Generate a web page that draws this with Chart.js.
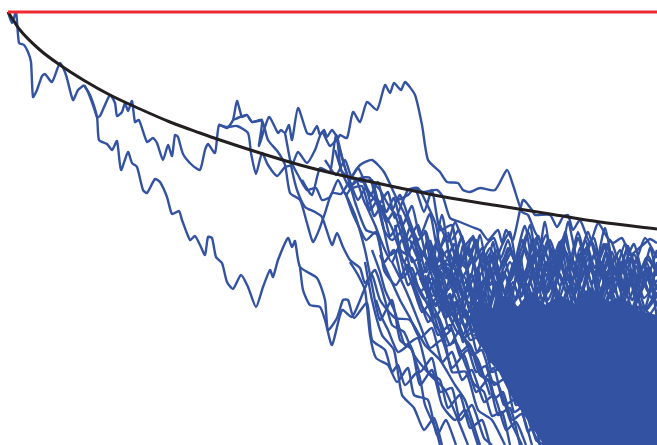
<!DOCTYPE html>
<html>
<head>
<meta charset="utf-8">
<style>
  html, body { margin: 0; padding: 0; background: #fff; }
  #wrap { width: 657px; height: 445px; }
</style>
<script src="https://cdn.jsdelivr.net/npm/chart.js@4"></script>
</head>
<body>
<div id="wrap"><canvas id="chart"></canvas></div>
<script>
const barrier = [8,12, 657,12];
const expected = [8,12, 20,30, 40,50, 60,65, 85,81, 110,95, 140,109, 170,122, 200,133, 220,140, 260,153, 300,165, 340,175, 400,188, 450,198, 500,206, 550,214, 600,222, 657,229];

// solid core where the paths overlap completely
const coreTop = [470,312, 480,300, 492,310, 505,296, 518,308, 530,292, 545,306, 560,296, 575,305, 590,288, 605,304, 620,298, 640,312, 657,316];
const coreBottom = [470,318, 480,342, 490,360, 500,372, 510,392, 525,415, 535,430, 545,445, 657,445];

const trunk = [8,12, 12,23, 16,12, 19,43, 24,45, 28,52, 31,62, 33,97, 37,90, 42,76, 45,74, 52,82, 60,63, 66,75, 73,100, 78,90, 84,85];
const upperA = [84,85, 88,92, 94,108, 97,117, 100,116, 110,95, 115,103, 117,116, 122,112, 125,103, 128,111, 132,101, 135,122, 139,120, 147,142, 153,138, 157,143, 163,160, 168,145, 172,156, 175,135, 178,137, 183,154, 192,165, 200,170, 205,150, 208,144, 215,153, 219,125, 227,128, 233,120, 237,101, 242,117, 247,115, 252,122, 262,120, 259,146, 269,117, 278,133, 281,130, 285,133, 289,125, 292,140, 298,108, 307,133, 312,134, 317,126, 320,135, 324,130, 327,137, 332,130, 338,138, 340,135, 347,138, 353,112, 360,122, 367,102, 377,110, 385,85, 390,93, 394,83, 401,90, 405,82, 415,95, 422,125, 428,160, 440,172, 447,182, 458,183, 463,190, 470,192, 480,188, 495,190, 507,170, 513,185, 522,212, 528,215, 535,232, 545,250, 552,275];
const lowerA = [84,85, 90,95, 97,117, 99,140, 107,144, 112,150, 117,141, 121,170, 128,152, 132,163, 137,167, 143,190, 147,193, 155,179, 160,182, 167,197, 172,214, 179,211, 182,220, 190,240, 195,236, 200,245, 205,255, 208,237, 212,238, 216,257, 222,263, 227,282, 233,289, 241,275, 248,287, 256,307, 263,287, 270,270, 273,277, 278,260, 288,238, 292,247, 295,241, 300,267, 317,278, 325,300, 328,330, 337,318, 343,300, 348,300, 354,318, 367,303, 372,340, 385,350, 392,372, 398,365, 405,385, 418,372, 425,405, 436,430, 440,445];
const midA = [219,125, 227,127, 237,126, 248,133, 251,153, 256,174, 262,153, 268,165, 277,176, 285,167, 292,165, 298,152, 307,163, 315,150, 322,132, 330,146, 337,140, 341,170, 350,178, 358,168, 368,190, 375,200, 385,215, 392,228, 400,250, 412,258, 425,290];
const midB = [233,120, 240,117, 247,115, 252,122, 262,121, 268,140, 278,152, 285,165, 290,193, 300,200, 307,223, 313,242, 319,230, 325,213, 332,193, 341,194, 350,180, 360,165, 372,160, 384,172, 395,195, 405,215, 415,240, 430,265, 445,300];
const midC = [285,133, 292,170, 297,190, 305,207, 315,212, 322,217, 332,245, 337,233, 343,247, 350,260, 360,268, 365,283, 375,270, 385,300, 392,325, 404,332, 414,355, 430,375, 445,390, 460,425, 468,445];
const midD = [300,267, 303,290, 310,305, 320,307, 325,320, 332,345, 342,310, 352,317, 365,288, 372,275, 380,300, 395,318, 410,320, 425,345, 440,360, 455,385, 465,400, 480,445];
const midE = [290,160, 298,175, 307,190, 316,188, 322,200, 330,197, 338,180, 346,195, 356,180, 366,205, 375,198, 384,230, 392,240, 404,230, 412,262, 425,255, 436,290, 450,310, 462,335, 478,360, 490,395];
const midF = [302,180, 312,195, 320,168, 330,172, 336,135, 344,165, 352,185, 360,178, 370,178, 378,205, 388,192, 395,218, 408,190, 418,188, 425,200, 436,225, 442,260, 455,270, 466,300, 480,310, 495,345];
const midG = [325,160, 336,175, 345,160, 352,178, 364,182, 372,180, 381,215, 390,255, 398,250, 408,285, 420,270, 432,305, 442,300, 456,330, 470,345, 480,375, 498,385, 510,420, 522,445];
const midH = [340,150, 348,178, 356,205, 366,230, 378,235, 384,270, 396,285, 408,265, 418,300, 430,318, 444,338, 452,372, 466,372, 478,410, 492,420, 505,445];
const midI = [345,192, 355,215, 365,250, 372,285, 380,320, 392,300, 400,340, 412,350, 420,385, 432,370, 442,405, 455,420, 465,410, 478,445];
const midJ = [350,262, 358,275, 365,290, 370,335, 376,358, 388,365, 397,382, 408,368, 414,395, 428,400, 437,435, 446,420, 456,445];
const midK = [372,182, 380,190, 392,210, 400,195, 410,222, 418,240, 426,232, 436,268, 448,260, 460,300, 470,285, 482,322, 496,330, 506,370, 520,385, 530,425, 540,445];
const midL = [398,200, 408,195, 415,188, 424,212, 432,190, 440,230, 452,225, 460,262, 470,250, 480,290, 490,275, 500,310];
const midM = [366,205, 375,225, 384,248, 392,262, 402,240, 412,275, 425,300, 434,282, 445,318, 456,305, 470,340, 482,335, 492,372, 505,365, 516,405, 530,400, 540,445];
const midN = [335,150, 342,172, 350,188, 362,186, 370,210, 378,200, 386,222, 394,212, 404,242, 410,228, 420,256, 428,246, 438,274];
const midO = [350,182, 358,200, 366,188, 374,216, 382,206, 390,236, 400,222, 408,252, 416,238, 426,272, 434,258, 444,286];
const midP = [362,178, 370,196, 378,182, 386,212, 394,198, 402,226, 412,206, 420,236, 430,214, 438,250, 448,236, 458,268];
const midQ = [346,195, 352,212, 358,225, 366,240, 376,232, 384,262, 394,250, 402,278, 412,268, 420,292, 430,282, 440,310];

const upperB = [415,188, 423,192, 437,190, 443,197, 450,218, 460,222, 472,227, 480,230, 488,240, 498,230, 502,243, 506,230, 513,240, 523,200, 532,210, 535,215, 550,215, 557,227, 563,217, 568,215, 573,230, 580,220, 590,243, 598,223, 607,237, 613,243, 622,238, 630,255, 637,250, 645,243, 650,239, 657,243];
const upperC = [440,225, 448,242, 455,222, 465,245, 472,238, 482,262, 490,248, 500,270, 508,248, 516,262, 528,232, 536,258, 546,235, 554,262, 562,240, 570,268, 578,238, 588,270, 596,250, 604,272, 612,252, 620,276, 630,258, 638,280, 646,258, 657,272];
const upperD = [430,240, 438,262, 448,250, 458,272, 468,250, 478,278, 488,262, 498,288, 510,262, 520,285, 532,256, 542,280, 552,252, 562,282, 572,258, 582,290, 592,268, 602,292, 612,262, 622,290, 634,272, 644,298, 657,280];
const upperE = [425,265, 436,245, 446,278, 456,262, 466,292, 476,272, 486,256, 496,294, 506,276, 516,300, 526,270, 536,296, 546,268, 558,300, 568,276, 578,304, 590,262, 600,300, 610,278, 622,306, 632,282, 644,310, 657,292];
const upperF = [420,280, 432,258, 442,292, 454,276, 464,262, 474,298, 484,280, 494,268, 504,305, 514,286, 526,312, 538,282, 550,308, 560,264, 572,300, 584,272, 596,314, 608,288, 620,262, 632,300, 644,272, 657,305];
const upperG = [435,272, 445,236, 455,290, 463,246, 472,304, 482,254, 492,312, 502,272, 512,252, 522,296, 532,242, 542,300, 552,272, 564,250, 574,290, 586,248, 596,284, 606,252, 618,278, 628,246, 640,288, 650,248, 657,276];
const upperH = [445,262, 452,286, 460,270, 470,312, 478,268, 486,322, 498,282, 508,318, 520,256, 530,320, 540,268, 552,326, 562,282, 574,316, 584,262, 594,330, 606,272, 616,312, 628,268, 640,322, 657,265];
const upperI = [455,250, 463,276, 473,260, 483,300, 493,242, 503,300, 513,270, 525,226, 535,280, 545,222, 555,286, 565,232, 575,278, 585,240, 595,268, 605,228, 615,272, 625,244, 635,262, 645,238, 657,258];
const upperJ = [425,230, 432,268, 442,215, 452,268, 462,236, 470,280, 480,235, 490,285, 500,250, 510,232, 518,272, 530,225, 538,270, 548,240, 558,276, 568,222, 578,262, 588,232, 600,272, 610,240, 622,268, 634,244, 645,282, 657,250];
const upperK = [410,240, 420,262, 428,240, 438,285, 450,305, 458,280, 468,322, 478,296, 488,338, 500,316, 510,342, 522,312, 532,342, 544,316, 556,340, 568,310, 580,336, 592,304, 604,330, 616,300, 628,326, 640,306, 657,322];
const upperL = [400,215, 408,240, 418,225, 428,262, 438,240, 446,272, 456,298, 466,318, 476,288, 486,312, 496,282, 506,322, 518,292, 530,264, 540,308, 552,282, 564,318, 576,286, 588,254, 598,296, 610,268, 622,312, 634,288, 646,262, 657,290];
const upperM = [395,225, 404,262, 414,242, 424,285, 434,262, 444,298, 452,322, 462,305, 472,276, 482,308, 492,256, 504,292, 514,262, 524,286, 536,248, 548,292, 558,256, 570,292, 580,248, 592,282, 604,244, 614,292, 626,252, 638,298, 648,268, 657,318];
const upperN = [445,300, 455,255, 466,268, 476,244, 486,286, 496,262, 506,296, 516,256, 526,298, 538,236, 548,272, 560,242, 570,284, 582,256, 594,238, 604,282, 616,256, 626,296, 636,262, 648,292, 657,262];

// tighter wiggles through the busy band under the fringe
const bandA = [430,262, 437,274, 443,266, 450,280, 457,270, 464,284, 471,274, 478,290, 485,278, 492,294, 499,280, 506,296, 513,282, 520,298, 527,284, 534,300, 541,284, 548,300, 555,286, 562,302, 569,286, 576,304, 583,288, 590,304, 597,288, 604,304, 611,290, 618,306, 625,290, 632,308, 639,292, 646,310, 657,296];
const bandB = [434,285, 441,272, 448,290, 455,278, 462,296, 469,282, 476,300, 483,286, 490,304, 497,288, 504,272, 511,292, 518,276, 525,294, 532,276, 539,292, 546,274, 553,292, 560,274, 567,294, 574,276, 581,296, 588,276, 595,294, 602,276, 609,296, 616,278, 623,298, 630,280, 637,300, 644,280, 651,298, 657,284];
const bandC = [440,246, 447,258, 454,244, 461,260, 468,246, 475,262, 482,248, 489,266, 496,250, 503,266, 510,248, 517,268, 524,250, 531,268, 538,250, 545,270, 552,250, 559,268, 566,252, 573,270, 580,254, 587,272, 594,256, 601,276, 608,258, 615,280, 622,262, 629,284, 636,266, 643,288, 650,270, 657,290];
const bandD = [428,275, 435,296, 442,282, 449,304, 456,288, 463,310, 470,292, 477,314, 484,296, 491,318, 498,298, 505,316, 512,298, 519,318, 526,300, 533,316, 540,296, 547,314, 554,294, 561,312, 568,290, 575,310, 582,292, 589,312, 596,294, 603,314, 610,296, 617,316, 624,298, 631,318, 638,300, 645,320, 657,304];
const bandE = [448,232, 455,252, 462,238, 469,256, 476,240, 483,268, 490,254, 497,276, 504,258, 511,280, 518,262, 525,282, 532,264, 539,286, 546,262, 553,278, 560,256, 567,280, 574,262, 581,282, 588,258, 595,280, 602,262, 609,284, 616,268, 623,288, 630,270, 637,276, 644,264, 651,282, 657,270];
const bandF = [420,268, 428,290, 436,306, 444,292, 452,314, 460,300, 468,322, 476,308, 484,330, 492,312, 500,330, 508,312, 516,330, 524,310, 532,326, 540,308, 548,326, 556,306, 564,322, 572,304, 580,322, 588,300, 596,320, 604,300, 612,318, 620,304, 628,320, 636,306, 657,330];
const bandG = [452,240, 459,230, 466,252, 473,236, 480,256, 487,244, 494,238, 501,258, 508,240, 515,262, 522,240, 529,256, 536,238, 543,260, 550,240, 557,258, 564,236, 571,256, 578,232, 585,254, 592,242, 599,260, 606,244, 613,262, 620,250, 627,268, 634,254, 641,270, 648,256, 657,274];
const bandH = [416,250, 424,272, 432,254, 440,278, 448,268, 456,292, 464,276, 472,298, 480,284, 488,306, 496,290, 504,310, 512,292, 520,268, 528,288, 536,268, 544,286, 552,264, 560,286, 568,268, 576,288, 584,264, 592,284, 600,266, 608,286, 616,270, 624,290, 632,272, 640,294, 648,276, 657,298];
const bandI = [424,285, 431,304, 438,296, 445,318, 452,302, 459,326, 466,310, 473,332, 480,318];
const bandJ = [436,276, 443,308, 450,294, 457,318, 464,334, 471,316, 478,340, 485,326, 492,350];
const bandK = [428,300, 435,318, 442,308, 449,330, 456,316, 463,342, 470,328, 477,352, 484,338];

// descending paths that thin out on the lower left of the cloud
const lowerB = [380,255, 390,278, 400,300, 410,318, 420,338, 432,328, 442,362, 452,352, 462,380, 472,370, 484,402, 494,395, 506,430, 516,422, 526,445];
const lowerC = [372,250, 380,272, 385,290, 395,312, 405,345, 418,338, 428,372, 440,380, 448,408, 460,395, 470,428, 482,420, 490,445];
const lowerD = [392,262, 402,282, 410,300, 420,325, 430,348, 442,340, 452,368, 464,355, 476,392, 488,380, 498,415, 510,408, 520,445];
const lowerE = [404,262, 412,275, 420,290, 430,310, 438,335, 450,325, 460,352, 470,345, 484,378, 494,368, 504,405, 518,398, 528,432, 536,420, 545,445];
const lowerF = [420,278, 430,300, 440,320, 450,345, 460,330, 472,355, 482,350, 494,385, 506,378, 514,412, 526,405, 536,440, 545,445];
const lowerG = [376,300, 382,318, 388,330, 398,352, 410,345, 420,372, 432,358, 440,392, 452,388, 460,420, 472,405, 484,438, 492,445];
const lowerH = [438,290, 448,316, 458,310, 468,335, 478,325, 490,362, 500,352, 510,385, 520,380, 530,415, 540,408, 548,445];
const lowerI = [365,262, 372,300, 382,335, 394,350, 402,395, 414,408, 424,430, 434,418, 442,445];
const lowerJ = [425,275, 432,296, 440,288, 448,312, 456,302, 464,326, 472,318, 480,344, 488,336, 496,362, 504,354, 512,380, 520,372, 528,402, 536,396, 545,425, 552,445];
const lowerK = [418,262, 425,284, 433,278, 441,302, 449,296, 457,322, 465,312, 473,336, 481,330, 489,352, 497,346, 505,372, 513,366, 521,394, 529,388, 537,418, 546,445];
const lowerL = [412,280, 420,300, 428,322, 436,314, 444,336, 452,330, 460,356, 468,350, 476,372, 486,366, 495,398, 503,392, 512,420, 522,414, 532,445];
const lowerM = [405,265, 414,290, 422,312, 430,304, 438,328, 446,346, 456,342, 466,366, 474,384, 484,392, 492,416, 502,412, 510,445];

const bluePaths = [trunk, upperA, lowerA, midA, midB, midC, midD, midE, midF, midG, midH, midI, midJ, midK, midL, midM, midN, midO, midP, midQ,
  upperB, upperC, upperD, upperE, upperF, upperG, upperH, upperI, upperJ, upperK, upperL, upperM, upperN,
  bandA, bandB, bandC, bandD, bandE, bandF, bandG, bandH, bandI, bandJ, bandK,
  lowerB, lowerC, lowerD, lowerE, lowerF, lowerG, lowerH, lowerI, lowerJ, lowerK, lowerL, lowerM];

const BLUE = "#3353a2";

function toPoints(flat) {
  const points = [];
  for (let i = 0; i < flat.length; i += 2) points.push({ x: flat[i], y: flat[i + 1] });
  return points;
}

const datasets = [];

datasets.push({ data: toPoints(coreTop), borderColor: BLUE, backgroundColor: BLUE, borderWidth: 2, fill: "+1", order: 5 });
datasets.push({ data: toPoints(coreBottom), borderColor: BLUE, borderWidth: 2, order: 5 });

bluePaths.forEach((path) => {
  datasets.push({ data: toPoints(path), borderColor: BLUE, borderWidth: 2.4, tension: 0.2, order: 3 });
});

datasets.push({ data: toPoints(expected), borderColor: "#231f20", borderWidth: 3, cubicInterpolationMode: "monotone", order: 2 });
datasets.push({ data: toPoints(barrier), borderColor: "#ed2a32", borderWidth: 3, order: 1 });

new Chart(document.querySelector("#chart"), {
  type: "line",
  data: { datasets },
  options: {
    responsive: true,
    maintainAspectRatio: false,
    animation: false,
    layout: { padding: 0 },
    elements: { point: { radius: 0 }, line: { tension: 0, borderJoinStyle: "round" } },
    plugins: { legend: { display: false }, tooltip: { enabled: false } },
    scales: {
      x: { type: "linear", display: false, min: 0, max: 657 },
      y: { type: "linear", display: false, reverse: true, min: 0, max: 445 },
    },
  },
});
</script>
</body>
</html>
